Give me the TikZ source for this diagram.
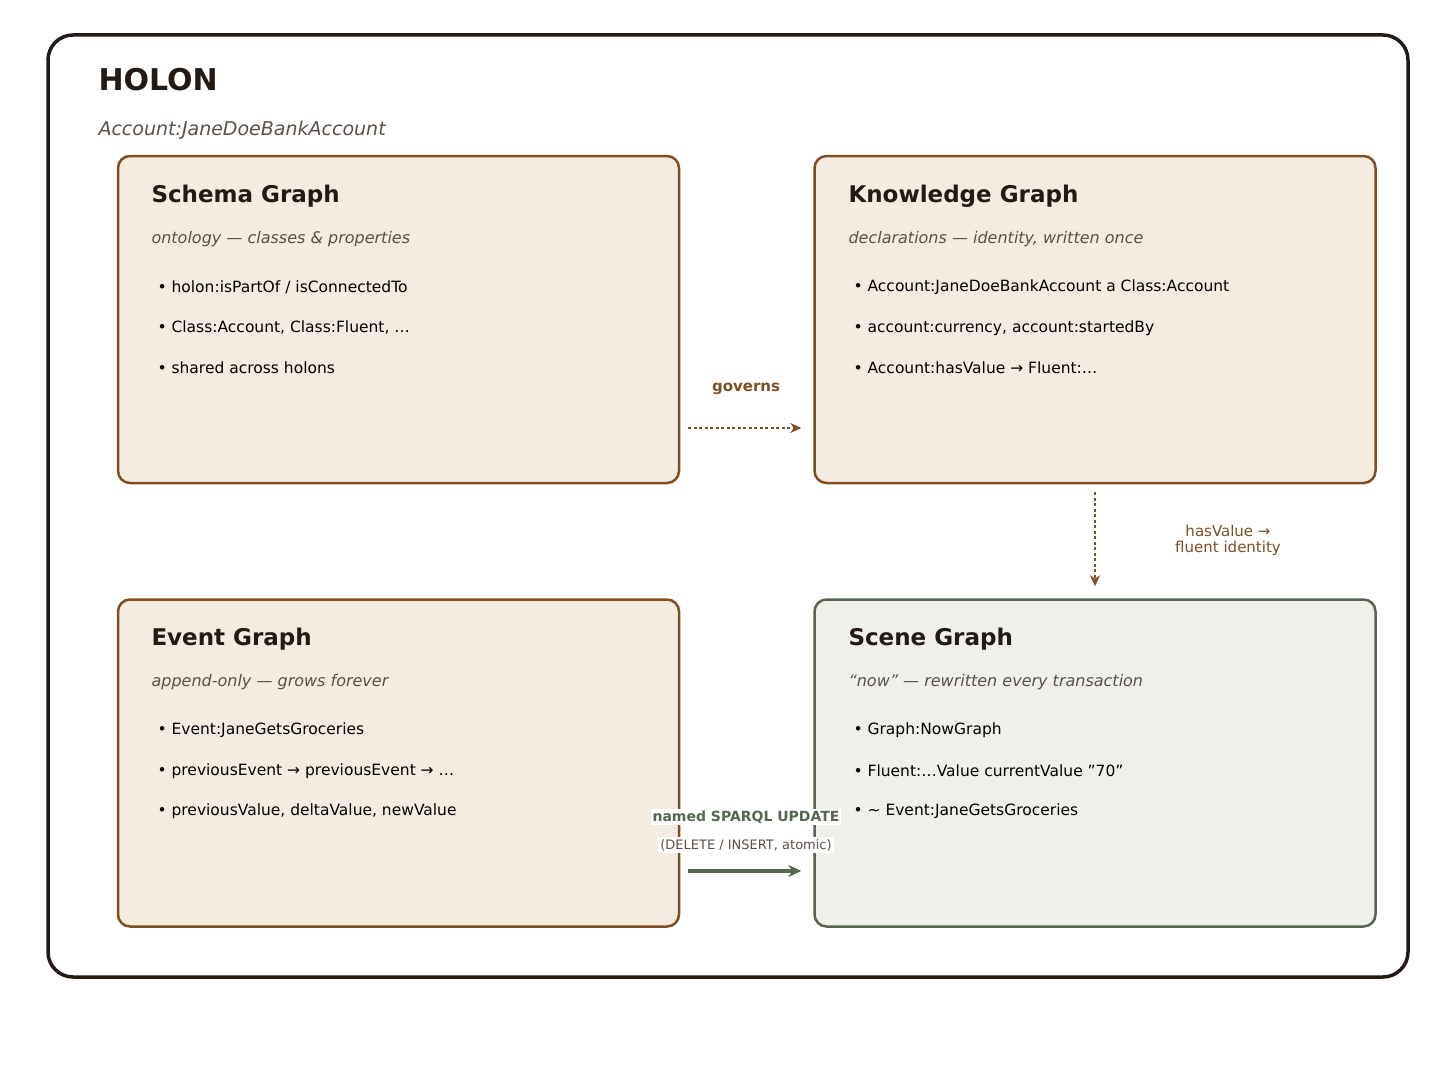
\documentclass[tikz,border=0pt]{standalone}
\usepackage{fontspec}
\setmainfont{DejaVu Sans}
\usetikzlibrary{arrows.meta,positioning}
\definecolor{ink}{HTML}{231A15}
\definecolor{brown}{HTML}{7F4F22}
\definecolor{cream}{HTML}{F4EBE1}
\definecolor{moss}{HTML}{566650}
\definecolor{mist}{HTML}{EFF0EA}
\definecolor{muted}{HTML}{5A5049}
\newcommand{\fs}[1]{\fontsize{#1}{#1}\selectfont}
\begin{document}
\begin{tikzpicture}[x=1pt,y=-1pt,
  graphbox/.style={draw=brown,fill=cream,line width=2.5pt,rounded corners=12pt,minimum width=561pt,minimum height=327pt,inner sep=0pt},
  title/.style={anchor=west,text=ink,font=\fs{23}\bfseries},
  sub/.style={anchor=west,text=muted,font=\fs{16}\itshape},
  item/.style={anchor=west,text=black,font=\fs{15.5}},
  link/.style={brown,line width=2.2pt,dash pattern=on 3pt off 2.5pt,-{Stealth[length=11pt,width=10pt]}}]
\useasboundingbox (0,0) rectangle (1456,1089);
\draw[ink,line width=3.5pt,rounded corners=25pt] (48,35) rectangle (1408,977);
\node[anchor=west,text=ink,font=\fs{30}\bfseries] (holon) at (95,80) {HOLON};
\node[anchor=west,text=muted,font=\fs{19}\itshape] (acct) at (95,130) {Account:JaneDoeBankAccount};
% the four graphs
\node[graphbox] (schema) at (398.5,319.5) {};
\node[graphbox] (know) at (1095,319.5) {};
\node[graphbox] (event) at (398.5,763) {};
\node[graphbox,draw=moss,fill=mist] (scene) at (1095,763) {};
% schema
\node[title] (st) at (148,196) {Schema Graph};
\node[sub] (ss) at (148,239) {ontology — classes \& properties};
\node[item] (s1) at (154,287) {• holon:isPartOf / isConnectedTo};
\node[item] (s2) at (154,328) {• Class:Account, Class:Fluent, …};
\node[item] (s3) at (154,368) {• shared across holons};
% knowledge
\node[title] (kt) at (845,196) {Knowledge Graph};
\node[sub] (ks) at (845,239) {declarations — identity, written once};
\node[item] (k1) at (850,287) {• Account:JaneDoeBankAccount a Class:Account};
\node[item] (k2) at (850,328) {• account:currency, account:startedBy};
\node[item] (k3) at (850,368) {• Account:hasValue → Fluent:…};
% event
\node[title] (et) at (148,639) {Event Graph};
\node[sub] (es) at (148,682) {append-only — grows forever};
\node[item] (e1) at (154,730) {• Event:JaneGetsGroceries};
\node[item] (e2) at (154,771) {• previousEvent → previousEvent → …};
\node[item] (e3) at (154,811) {• previousValue, deltaValue, newValue};
% scene
\node[title] (nt) at (845,639) {Scene Graph};
\node[sub] (ns) at (845,682) {“now” — rewritten every transaction};
\node[item] (n1) at (850,730) {• Graph:NowGraph};
\node[item] (n2) at (850,771) {• Fluent:…Value currentValue "70"};
\node[item] (n3) at (850,811) {• \textasciitilde{} Event:JaneGetsGroceries};
% links
\draw[link,shorten <=8pt,shorten >=12pt] ([yshift=-108.5pt]schema.east) -- ([yshift=-108.5pt]know.west);
\node[text=brown,font=\fs{15}\bfseries] (gov) at (746,389) {governs};
\draw[link,shorten <=8pt,shorten >=12pt] (know.south) -- (scene.north);
\node[text=brown,font=\fs{15},align=center] (hv) at (1228,540) {hasValue →\\[1pt]fluent identity};
\draw[moss,line width=3.5pt,-{Stealth[length=13pt,width=12pt]},shorten <=8pt,shorten >=12pt] ([yshift=-108pt]event.east) -- ([yshift=-108pt]scene.west);
\node[fill=white,inner sep=2pt,text=moss,font=\fs{14}\bfseries] (upd) at (746,817) {named SPARQL UPDATE};
\node[fill=white,inner sep=2pt,text=muted,font=\fs{13}] (upd2) at (746,845) {(DELETE / INSERT, atomic)};
\end{tikzpicture}
\end{document}
